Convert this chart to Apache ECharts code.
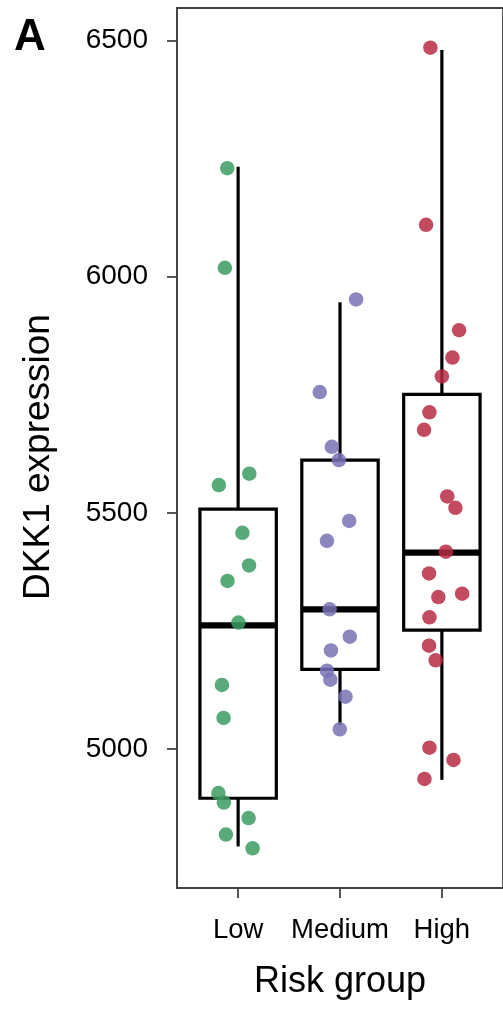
<!DOCTYPE html>
<html>
<head>
<meta charset="utf-8">
<script src="https://cdn.jsdelivr.net/npm/echarts@6/dist/echarts.min.js"></script>
<style>html,body{margin:0;padding:0;background:#fff}#c{width:503px;height:1011px}</style>
</head>
<body>
<div id="c"></div>
<script>
var categories = ['Low', 'Medium', 'High'];
var yTicks = [5000, 5500, 6000, 6500];

// box stats: [whiskerLow, Q1, median, Q3, whiskerHigh]
var lowBox = [4794, 4896, 5262, 5508, 6233];
var mediumBox = [5051, 5169, 5296, 5612, 5946];
var highBox = [4935, 5252, 5416, 5751, 6480];

// jittered points (x position on category scale 1..3, y value)
var lowX = [0.893, 0.870, 1.110, 0.811, 1.042, 1.107, 0.896, 1.003, 0.841, 0.857, 0.806, 0.860, 1.103, 0.880, 1.142];
var lowY = [6230, 6019, 5583, 5559, 5458, 5389, 5356, 5268, 5136, 5066, 4907, 4887, 4854, 4819, 4790];
var mediumX = [2.158, 1.801, 1.920, 1.989, 2.090, 1.872, 1.898, 2.096, 1.911, 1.872, 1.905, 2.054, 1.998];
var mediumY = [5952, 5756, 5640, 5612, 5483, 5441, 5296, 5238, 5209, 5166, 5147, 5111, 5042];
var highX = [2.887, 2.845, 3.169, 3.104, 3.000, 2.878, 2.825, 3.053, 3.133, 3.039, 2.874, 3.199, 2.965, 2.878, 2.874, 2.939, 2.878, 3.114, 2.829];
var highY = [6485, 6110, 5887, 5829, 5789, 5713, 5676, 5535, 5511, 5418, 5372, 5329, 5322, 5279, 5219, 5188, 5003, 4977, 4937];

var colors = ['#3B9B60', '#7872B3', '#B92C43'];
var FONT = 'Liberation Sans, Arial, Helvetica, sans-serif';

function pts(xs, ys) { return xs.map(function (x, i) { return [x, ys[i]]; }); }

var boxes = [lowBox, mediumBox, highBox];
var boxData = boxes.map(function (b, i) { return [i + 1].concat(b); });

var chart = echarts.init(document.getElementById('c'), null, {renderer: 'canvas'});
chart.setOption({
  animation: false,
  backgroundColor: '#fff',
  title: {
    text: 'A', left: 14, top: 16, padding: 0,
    textStyle: {fontFamily: FONT, fontSize: 44, fontWeight: 'bold', color: '#000'}
  },
  grid: {
    left: 177, top: 8, width: 329, height: 880,
    show: true, borderColor: '#444', borderWidth: 1.8, backgroundColor: 'transparent'
  },
  xAxis: {
    type: 'value', min: 0.4, max: 3.6,
    name: 'Risk group', nameLocation: 'middle', nameGap: 76,
    nameTextStyle: {fontFamily: FONT, fontSize: 36, color: '#000'},
    axisLine: {show: true, lineStyle: {color: '#444', width: 1.8}},
    axisTick: {show: true, length: 10, customValues: [1, 2, 3], lineStyle: {color: '#444', width: 1.8}},
    axisLabel: {
      customValues: [1, 2, 3], margin: 28,
      fontFamily: FONT, fontSize: 27.5, color: '#000',
      formatter: function (v) { return categories[Math.round(v) - 1] || ''; }
    },
    splitLine: {show: false}
  },
  yAxis: {
    type: 'value', min: 4706, max: 6569,
    name: 'DKK1 expression', nameLocation: 'middle', nameGap: 120, nameRotate: 90,
    nameTextStyle: {fontFamily: FONT, fontSize: 37, color: '#000', padding: [0, 18, 0, 0]},
    axisLine: {show: true, lineStyle: {color: '#444', width: 1.8}},
    axisTick: {show: true, length: 10, customValues: yTicks, lineStyle: {color: '#444', width: 1.8}},
    axisLabel: {
      customValues: yTicks, margin: 29, padding: [6, 0, 0, 0],
      fontFamily: FONT, fontSize: 28, color: '#000',
      formatter: function (v) { return String(v); }
    },
    splitLine: {show: false}
  },
  series: [
    {
      type: 'custom',
      z: 2,
      data: boxData,
      renderItem: function (params, api) {
        var x = api.value(0);
        var hw = 0.375;
        var pMin = api.coord([x, api.value(1)]);
        var pQ1 = api.coord([x, api.value(2)]);
        var pMed = api.coord([x, api.value(3)]);
        var pQ3 = api.coord([x, api.value(4)]);
        var pMax = api.coord([x, api.value(5)]);
        var xl = api.coord([x - hw, 0])[0];
        var xr = api.coord([x + hw, 0])[0];
        var st = {stroke: '#000', lineWidth: 3.2, fill: null};
        return {
          type: 'group',
          children: [
            {type: 'line', shape: {x1: pMax[0], y1: pMax[1], x2: pQ3[0], y2: pQ3[1]}, style: st},
            {type: 'line', shape: {x1: pQ1[0], y1: pQ1[1], x2: pMin[0], y2: pMin[1]}, style: st},
            {type: 'rect', shape: {x: xl, y: pQ3[1], width: xr - xl, height: pQ1[1] - pQ3[1]},
             style: {stroke: '#000', lineWidth: 3.2, fill: '#fff'}},
            {type: 'line', shape: {x1: xl, y1: pMed[1], x2: xr, y2: pMed[1]}, style: {stroke: '#000', lineWidth: 6.2}}
          ]
        };
      }
    },
    {type: 'scatter', z: 5, symbolSize: 14.5, data: pts(lowX, lowY), itemStyle: {color: colors[0], opacity: 0.85}},
    {type: 'scatter', z: 5, symbolSize: 14.5, data: pts(mediumX, mediumY), itemStyle: {color: colors[1], opacity: 0.85}},
    {type: 'scatter', z: 5, symbolSize: 14.5, data: pts(highX, highY), itemStyle: {color: colors[2], opacity: 0.85}}
  ]
});
</script>
</body>
</html>
